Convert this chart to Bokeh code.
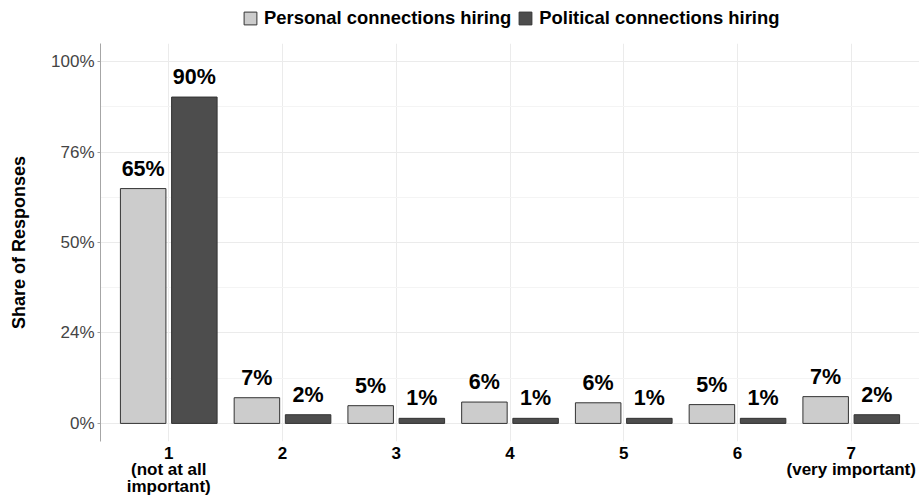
from bokeh.plotting import figure
from bokeh.layouts import column
from bokeh.models import (Range1d, FixedTicker, Legend, LegendItem, ColumnDataSource)
from bokeh.core.properties import value
from bokeh.embed import file_html
from bokeh.resources import INLINE

# ---- data ----
categories = [1, 2, 3, 4, 5, 6, 7]
x_tick_labels = ["1\n(not at all\nimportant)", "2", "3", "4", "5", "6", "7\n(very important)"]
personal = [64.9, 7.1, 4.9, 5.9, 5.7, 5.2, 7.4]
political = [90.2, 2.4, 1.4, 1.4, 1.4, 1.4, 2.4]
series_names = ["Personal connections hiring", "Political connections hiring"]
y_ticks = [0, 25, 50, 75, 100]
y_tick_labels = ["0%", "24%", "50%", "76%", "100%"]
y_minor = [12.5, 37.5, 62.5, 87.5]

FONT = "Liberation Sans"
LIGHT = "#cccccc"
DARK = "#4d4d4d"
EDGE = "#333333"
GRID = "#ebebeb"

dodge_off = 0.225
bar_w = 0.4

src_p = ColumnDataSource(dict(
    x=[c - dodge_off for c in categories], top=personal,
    lab=[f"{round(v):.0f}%" for v in personal]))
src_q = ColumnDataSource(dict(
    x=[c + dodge_off for c in categories], top=political,
    lab=[f"{round(v):.0f}%" for v in political]))

# ---- legend strip (its view is far from the data; only the legend shows) ----
lg = figure(width=919, height=43, output_backend="svg", toolbar_location=None,
            x_range=Range1d(1000, 1001), y_range=Range1d(1000, 1001),
            min_border_left=100, min_border_right=0, min_border_top=0,
            min_border_bottom=0)
lg.axis.visible = False
lg.grid.visible = False
lg.outline_line_color = None
l1 = lg.vbar(x="x", top="top", width=bar_w, bottom=0, source=src_p,
             fill_color=LIGHT, line_color=EDGE)
l2 = lg.vbar(x="x", top="top", width=bar_w, bottom=0, source=src_q,
             fill_color=DARK, line_color=EDGE)
legend = Legend(items=[LegendItem(label=series_names[0], renderers=[l1]),
                       LegendItem(label=series_names[1], renderers=[l2])],
                orientation="horizontal", location=(142, 14),
                label_text_font=FONT, label_text_font_style="bold",
                label_text_font_size="18.4px", label_text_color="black",
                glyph_height=16, glyph_width=16, label_height=16,
                label_standoff=6, spacing=6, padding=2, margin=0,
                border_line_color=None, background_fill_alpha=0)
lg.add_layout(legend, "center")

# ---- main chart ----
p = figure(width=919, height=455, output_backend="svg", toolbar_location=None,
           x_range=Range1d(0.4, 7.6), y_range=Range1d(-5, 105),
           min_border_left=100, min_border_right=0, min_border_top=0,
           min_border_bottom=49)
p.outline_line_color = None
p.background_fill_color = "white"

p.vbar(x="x", top="top", width=bar_w, bottom=0, source=src_p,
       fill_color=LIGHT, line_color=EDGE, line_width=1)
p.vbar(x="x", top="top", width=bar_w, bottom=0, source=src_q,
       fill_color=DARK, line_color=EDGE, line_width=1)

for src in (src_p, src_q):
    p.text(x="x", y="top", text="lab", source=src, text_align="center",
           text_baseline="alphabetic", y_offset=-20,
           text_font=value(FONT), text_font_style="bold",
           text_font_size="21.5px", text_color="black")

# axes
p.xaxis.ticker = FixedTicker(ticks=categories)
p.xaxis.major_label_overrides = {c: l for c, l in zip(categories, x_tick_labels)}
p.xaxis.axis_line_color = None
p.xaxis.major_tick_line_color = None
p.xaxis.major_tick_out = 0
p.xaxis.major_tick_in = 0
p.xaxis.minor_tick_line_color = None
p.xaxis.major_label_standoff = 2
p.xaxis.major_label_text_font = FONT
p.xaxis.major_label_text_font_style = "bold"
p.xaxis.major_label_text_font_size = "17px"
p.xaxis.major_label_text_color = "black"
p.xaxis.major_label_text_line_height = 0.87

p.yaxis.ticker = FixedTicker(ticks=y_ticks, minor_ticks=y_minor)
p.yaxis.major_label_overrides = {t: l for t, l in zip(y_ticks, y_tick_labels)}
p.yaxis.axis_line_color = "#a6a6a6"
p.yaxis.major_tick_line_color = "#a6a6a6"
p.yaxis.major_tick_out = 3
p.yaxis.major_tick_in = 0
p.yaxis.minor_tick_line_color = None
p.yaxis.major_label_standoff = 2
p.yaxis.major_label_text_font = FONT
p.yaxis.major_label_text_font_size = "17px"
p.yaxis.major_label_text_color = "#444444"
p.yaxis.axis_label = "Share of Responses"
p.yaxis.axis_label_text_font = FONT
p.yaxis.axis_label_text_font_style = "bold"
p.yaxis.axis_label_text_font_size = "18px"
p.yaxis.axis_label_text_color = "black"
p.yaxis.axis_label_standoff = 19

p.xgrid.ticker = FixedTicker(ticks=categories)
p.xgrid.grid_line_color = GRID
p.ygrid.grid_line_color = GRID
p.ygrid.minor_grid_line_color = "#f4f4f4"

layout = column(lg, p, spacing=0)
open("out.html", "w").write(file_html(layout, INLINE))
